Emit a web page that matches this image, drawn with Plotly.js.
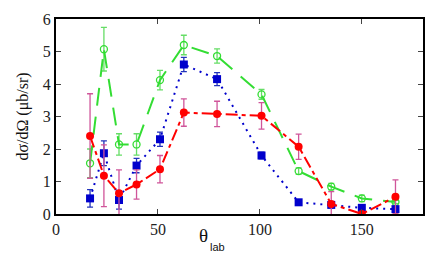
<!DOCTYPE html>
<html>
<head>
<meta charset="utf-8">
<script src="https://cdn.plot.ly/plotly-3.0.1.min.js"></script>
<style>html,body{margin:0;padding:0;background:#fff;}#chart{width:436px;height:262px;}</style>
</head>
<body>
<div id="chart"></div>
<script>
// Angles (theta_lab, degrees)
const theta = [16.7, 23.5, 30.9, 39.5, 51, 62.7, 79, 100.8, 119, 135, 150, 166.5];

// Green series (open circles)
const greenY   = [1.56, 5.07, 2.14, 2.14, 4.12, 5.2, 4.86, 3.68, 1.32, 0.84, 0.48, 0.37];
const greenErr = [0.44, 0.67, 0.33, 0.33, 0.3, 0.3, 0.22, 0.15, 0.1, 0.1, 0.1, 0.05];

// Blue series (squares)
const blueY   = [0.48, 1.87, 0.43, 1.49, 2.3, 4.6, 4.15, 1.8, 0.36, 0.28, 0.19, 0.15];
const blueErr = [0.27, 0.38, 0.28, 0.22, 0.22, 0.22, 0.2, 0.1, 0.05, 0.05, 0.05, 0.05];

// Red series (filled circles)
const redY   = [2.4, 1.18, 0.64, 0.91, 1.38, 3.12, 3.08, 3.02, 2.07, 0.31, 0.0, 0.53];
const redErr = [1.3, 0.95, 0.72, 0.45, 0.42, 0.42, 0.39, 0.41, 0.39, 0.38, 0.0, 0.52];

const xTicks = [0, 50, 100, 150];
const yTicks = [0, 1, 2, 3, 4, 5, 6];

const SERIF = "'Liberation Serif', 'Times New Roman', serif";
const SANS = "'Liberation Sans', Arial, sans-serif";

const traces = [
  {
    x: theta, y: greenY, type: 'scatter', mode: 'lines+markers',
    line: {color: '#33dd33', width: 2, dash: '18px,11px'},
    marker: {symbol: 'circle-open', size: 7, color: '#33dd33', line: {width: 1.3, color: '#33dd33'}},
    error_y: {type: 'data', array: greenErr, visible: true, color: '#66dd66', thickness: 1.3, width: 3},
    cliponaxis: true
  },
  {
    x: theta, y: blueY, type: 'scatter', mode: 'lines+markers',
    line: {color: '#0000cc', width: 2, dash: '2px,5px'},
    marker: {symbol: 'square', size: 8, color: '#0000cc'},
    error_y: {type: 'data', array: blueErr, visible: true, color: '#2233bb', thickness: 1.3, width: 3},
    cliponaxis: true
  },
  {
    x: theta, y: redY, type: 'scatter', mode: 'lines+markers',
    line: {color: '#ff0000', width: 2, dash: '12px,4px,4px,4px'},
    marker: {symbol: 'circle', size: 8, color: '#ff0000'},
    error_y: {type: 'data', array: redErr, visible: true, color: '#d0559a', thickness: 1.3, width: 3},
    cliponaxis: true
  }
];

const layout = {
  width: 436, height: 262,
  margin: {l: 56, r: 13, t: 19, b: 48},
  paper_bgcolor: '#fff', plot_bgcolor: '#fff',
  showlegend: false,
  font: {family: SERIF, size: 14, color: '#222'},
  xaxis: {
    range: [0, 180], tickvals: xTicks, ticktext: xTicks.map(String),
    ticks: 'inside', ticklen: 5, tickcolor: '#444', tickwidth: 1,
    showline: true, linecolor: '#000', linewidth: 2, mirror: 'ticks',
    showgrid: false, zeroline: false,
    tickfont: {family: SERIF, size: 16, color: '#222'}
  },
  yaxis: {
    range: [0, 6], tickvals: yTicks, ticktext: yTicks.map(String),
    ticks: 'inside', ticklen: 5, tickcolor: '#444', tickwidth: 1,
    showline: true, linecolor: '#000', linewidth: 2, mirror: 'ticks',
    showgrid: false, zeroline: false,
    tickfont: {family: SERIF, size: 16, color: '#222'},
    title: {text: 'dσ/dΩ (μb/sr)', font: {family: SERIF, size: 16, color: '#111'}, standoff: 10}
  },
  annotations: [
    {
      xref: 'paper', yref: 'paper', x: 0.385, y: -0.045, xanchor: 'left', yanchor: 'top',
      text: 'θ', showarrow: false,
      font: {family: SERIF, size: 19, color: '#111'}
    },
    {
      xref: 'paper', yref: 'paper', x: 0.415, y: -0.13, xanchor: 'left', yanchor: 'top',
      text: 'lab', showarrow: false,
      font: {family: SANS, size: 11, color: '#111'}
    }
  ]
};

Plotly.newPlot('chart', traces, layout, {displayModeBar: false, staticPlot: true});
</script>
</body>
</html>
